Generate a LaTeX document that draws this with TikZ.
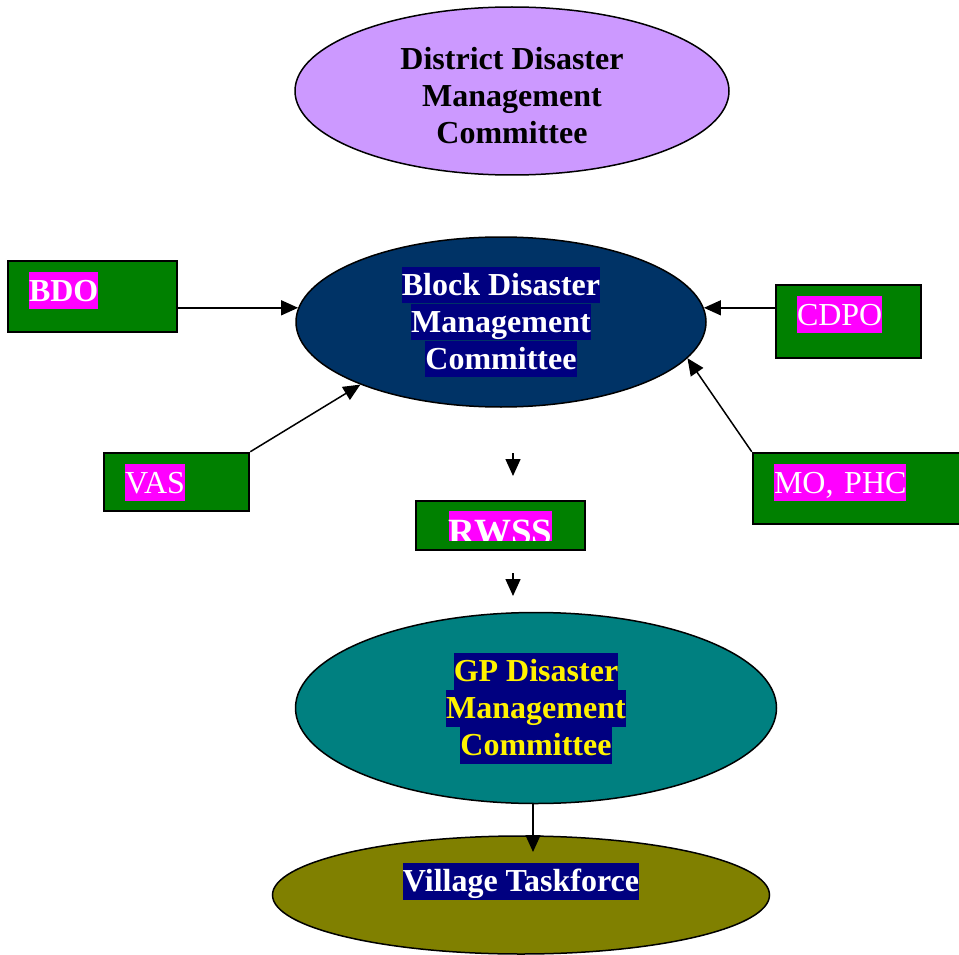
\documentclass[tikz,border=0pt]{standalone}
\usepackage{fontspec}
\setmainfont{Liberation Serif}
\usepackage{tikz}
\usetikzlibrary{shapes.geometric,arrows.meta}

\definecolor{districtPurple}{HTML}{CC99FF}
\definecolor{blockNavy}{HTML}{003366}
\definecolor{gpTeal}{HTML}{008080}
\definecolor{villageOlive}{HTML}{808000}
\definecolor{boxGreen}{HTML}{008000}
\definecolor{hlNavy}{HTML}{000080}
\definecolor{hlMagenta}{HTML}{FF00FF}

% highlighted line of text
\newcommand{\hilite}[2]{{\setlength{\fboxsep}{0pt}\colorbox{#1}{\rule[-0.25em]{0pt}{1.156em}#2}}}

\begin{document}
\begin{tikzpicture}[x=1pt, y=-1pt,
        every node/.style={font=\fontsize{32}{37}\selectfont}]
        \tikzstyle{committee} = [ellipse, draw=black, line width=1.5, inner sep=0, align=center, font=\fontsize{32}{37}\selectfont\bfseries]
        \tikzstyle{greenBox} = [rectangle, draw=black, line width=2.5, fill=boxGreen, text=white, align=left, inner xsep=21, inner ysep=0, text height=40]
        \tikzstyle{arrowEdge} = [draw=black, line width=1.5, -{Triangle[length=17pt,width=15pt]}]
        \useasboundingbox (0,0) rectangle (959,955);
        % committees
        \node[committee, fill=districtPurple, minimum width=434, minimum height=168, text height=106, text depth=0] (district) at (512,91) {District Disaster\\Management\\Committee};
        \node[committee, fill=blockNavy, text=white, minimum width=410, minimum height=170] (block) at (501,322) {\hilite{hlNavy}{Block Disaster}\\\hilite{hlNavy}{Management}\\\hilite{hlNavy}{Committee}};
        \node[committee, fill=gpTeal, text=yellow, minimum width=481, minimum height=191] (gp) at (536,708) {\hilite{hlNavy}{GP Disaster}\\\hilite{hlNavy}{Management}\\\hilite{hlNavy}{Committee}};
        \node[committee, fill=villageOlive, text=white, minimum width=497, minimum height=118, text depth=36] (village) at (521,895) {\hilite{hlNavy}{Village Taskforce}};
        % officials
        \node[greenBox, text width=127, text depth=31] (bdo) at (92.5,296.5) {\bfseries\hilite{hlMagenta}{BDO}};
        \node[greenBox, text width=103, text depth=33] (cdpo) at (848.5,321.5) {\hilite{hlMagenta}{CDPO}};
        \node[greenBox, text width=103, text depth=18] (vas) at (176.5,482) {\hilite{hlMagenta}{VAS}};
        \node[greenBox, text width=170, text depth=31] (mo) at (859,488.5) {\hilite{hlMagenta}{MO, PHC}};
        \node[greenBox, minimum width=169, minimum height=49, inner sep=0, text height=, text depth=] (rwss) at (500.5,525.5) {};
        \begin{scope}
            \clip ([yshift=-11pt]rwss.north west) rectangle ([yshift=11pt]rwss.south east);
            \node[anchor=north, inner sep=0, yshift=-11pt, text=white, font=\fontsize{37}{42}\selectfont\bfseries] (rwssText) at (rwss.north) {\hilite{hlMagenta}{RWSS}};
        \end{scope}
        % loose arrow ends
        \coordinate (upStart) at (513,453);
        \coordinate (upEnd) at (513,476);
        \coordinate (downStart) at (513,573);
        \coordinate (downEnd) at (513,596);
        \coordinate (taskTip) at (533,852);
        \path (bdo.east |- block.176) edge[arrowEdge] (block.176);
        \path (cdpo.west |- block.4) edge[arrowEdge] (block.4);
        \path (vas.north east) edge[arrowEdge] (block.204);
        \path (mo.north west) edge[arrowEdge] (block.349);
        \path (upStart) edge[arrowEdge] (upEnd);
        \path (downStart) edge[arrowEdge] (downEnd);
        \path (gp.south -| taskTip) edge[arrowEdge] (taskTip);
    \end{tikzpicture}
\end{document}
